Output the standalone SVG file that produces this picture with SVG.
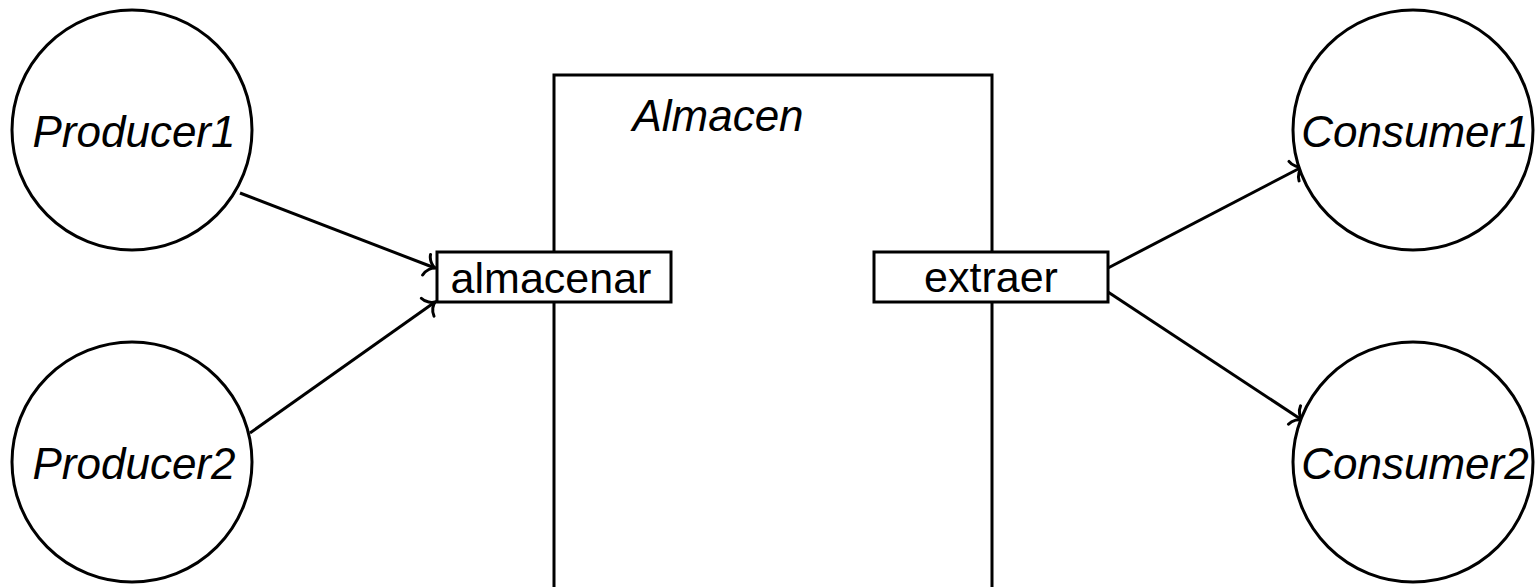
<svg xmlns="http://www.w3.org/2000/svg" width="1535" height="587" viewBox="0 0 1535 587">
<defs>
<style>
.n{fill:#fff;stroke:#000;stroke-width:3}
.e{fill:none;stroke:#000;stroke-width:3}
.it{font-family:"Liberation Sans","DejaVu Sans",sans-serif;font-style:italic;font-size:44px;fill:#000;text-anchor:middle}
.up{font-family:"Liberation Sans","DejaVu Sans",sans-serif;font-size:43px;fill:#000;text-anchor:middle}
</style>
<marker id="to" markerUnits="userSpaceOnUse" viewBox="-12 -12 14 24" refX="0" refY="0" markerWidth="14" markerHeight="24" orient="auto" overflow="visible">
<path d="M -9,-11 C -8,-5 -3,-1 0,0 C -3,1 -8,5 -9,11" fill="none" stroke="#000" stroke-width="3" stroke-linecap="round"/>
</marker>
</defs>
<rect width="1535" height="587" fill="#fff"/>
<g id="almacen">
<path class="e" d="M554,600 V75 H992 V600"/>
<text class="it" x="718" y="131">Almacen</text>
</g>
<g id="connectors">
<line class="e" x1="240" y1="193" x2="435" y2="268" marker-end="url(#to)"/>
<line class="e" x1="250" y1="433" x2="435" y2="302" marker-end="url(#to)"/>
<line class="e" x1="1108" y1="268" x2="1302" y2="167" marker-end="url(#to)"/>
<line class="e" x1="1108" y1="292" x2="1302" y2="420" marker-end="url(#to)"/>
</g>
<g id="producer1">
<circle class="n" cx="132" cy="130" r="120"/>
<text class="it" x="134" y="147">Producer1</text>
</g>
<g id="producer2">
<circle class="n" cx="132" cy="462" r="120"/>
<text class="it" x="134" y="479">Producer2</text>
</g>
<g id="consumer1">
<circle class="n" cx="1413" cy="130" r="120"/>
<text class="it" x="1415" y="147">Consumer1</text>
</g>
<g id="consumer2">
<circle class="n" cx="1413" cy="462" r="120"/>
<text class="it" x="1415" y="479">Consumer2</text>
</g>
<g id="almacenar">
<rect class="n" x="437" y="252" width="234" height="50"/>
<text class="up" x="551" y="293">almacenar</text>
</g>
<g id="extraer">
<rect class="n" x="874" y="252" width="234" height="50"/>
<text class="up" x="991" y="292">extraer</text>
</g>
</svg>
